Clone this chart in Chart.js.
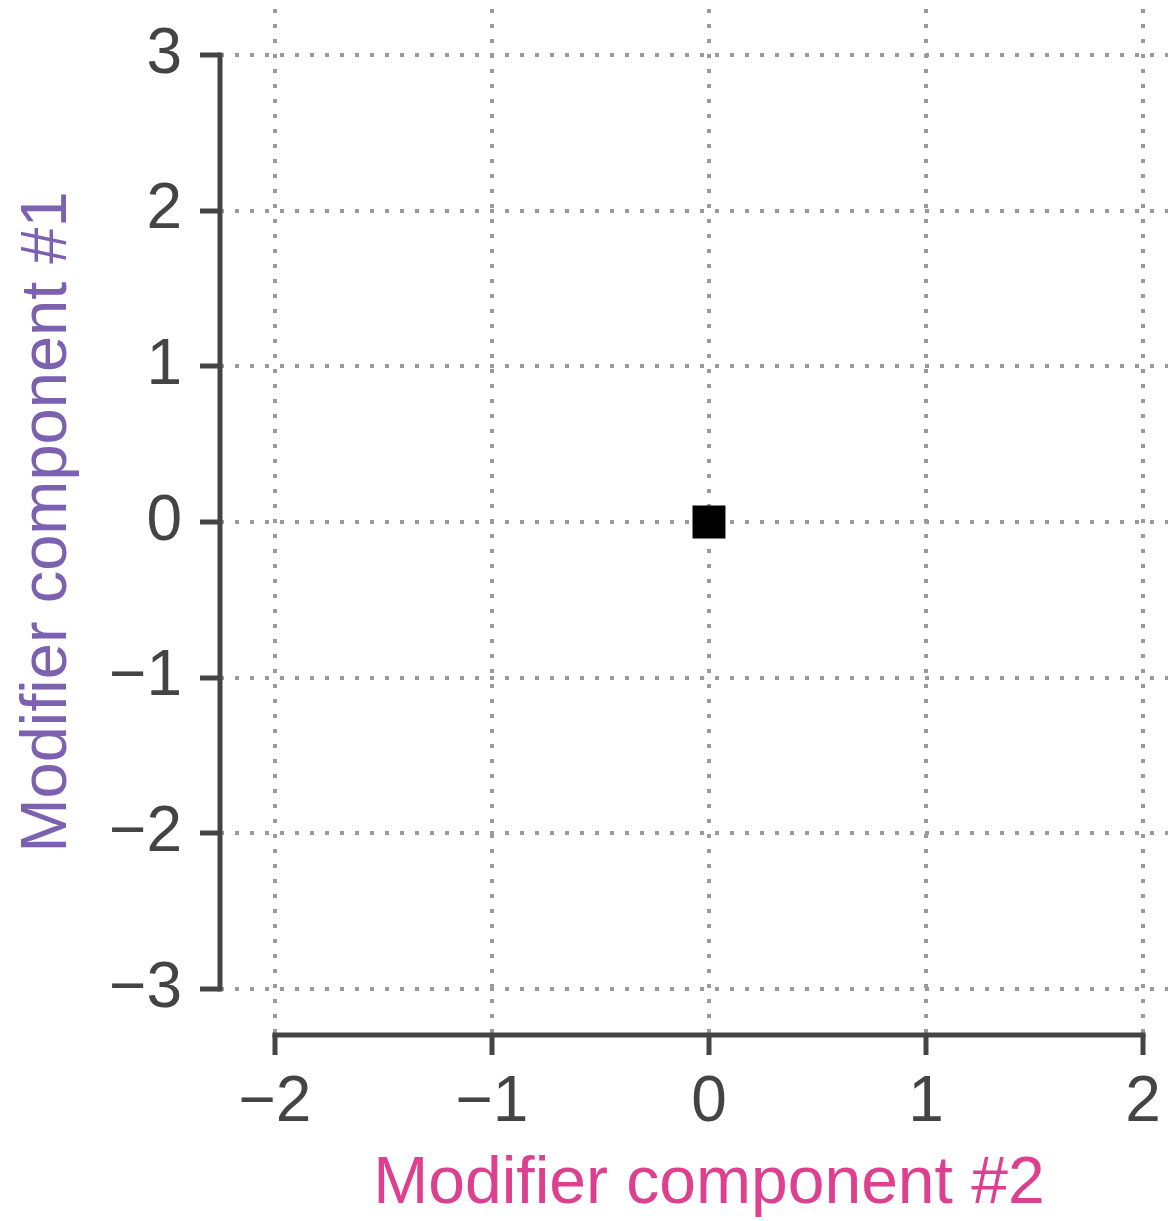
<!DOCTYPE html>
<html>
<head>
<meta charset="utf-8">
<script src="https://cdn.jsdelivr.net/npm/chart.js@4.4.0/dist/chart.umd.min.js"></script>
<style>
  html, body { margin: 0; padding: 0; background: #fff; }
  #wrap { width: 1168px; height: 1221px; }
</style>
</head>
<body>
<div id="wrap"><canvas id="scatter" width="1168" height="1221"></canvas></div>
<script>
const xTicks = [-2, -1, 0, 1, 2];
const yTicks = [-3, -2, -1, 0, 1, 2, 3];
const pointX = [0];
const pointY = [0];
const xTitle = "Modifier component #2";
const yTitle = "Modifier component #1";

const fontFamily = "'Liberation Sans', Arial, Helvetica, sans-serif";
const axisColor = "#444444";
const gridColor = "#9a9a9a";

// minus sign instead of hyphen, like the original
function fmt(v) {
    return v < 0 ? "\u2212" + Math.abs(v) : String(v);
}

// spines only run between first and last tick (offset axes)
const spines = {
    id: 'spines',
    afterDraw(chart) {
        const ctx = chart.ctx;
        const xs = chart.scales.x, ys = chart.scales.y;
        const area = chart.chartArea;
        const x0 = xs.getPixelForValue(xTicks[0]);
        const x1 = xs.getPixelForValue(xTicks[xTicks.length - 1]);
        ctx.save();
        ctx.strokeStyle = axisColor;
        ctx.lineWidth = 5;
        ctx.lineCap = 'square';
        ctx.beginPath();
        ctx.moveTo(area.left, ys.getPixelForValue(yTicks[0]));
        ctx.lineTo(area.left, ys.getPixelForValue(yTicks[yTicks.length - 1]));
        ctx.moveTo(x0, area.bottom);
        ctx.lineTo(x1, area.bottom);
        ctx.stroke();
        // x title centred under the spine, not under the whole chart area
        ctx.fillStyle = '#dd408f';
        ctx.font = '66px ' + fontFamily;
        ctx.textAlign = 'center';
        ctx.textBaseline = 'alphabetic';
        ctx.fillText(xTitle, (x0 + x1) / 2, area.bottom + 168);
        ctx.restore();
    }
};

const gridOpts = {
    color: gridColor,
    lineWidth: 4,
    tickLength: 20,
    tickWidth: 5,
    tickColor: axisColor,
    tickBorderDash: []
};

new Chart(document.getElementById('scatter'), {
    type: 'scatter',
    data: {
        datasets: [{
            data: pointX.map((x, i) => ({ x: x, y: pointY[i] })),
            pointStyle: 'rect',
            pointRadius: 23.3,
            pointHoverRadius: 23.3,
            backgroundColor: '#000000',
            borderColor: '#000000',
            borderWidth: 0
        }]
    },
    plugins: [spines],
    options: {
        responsive: false,
        animation: false,
        events: [],
        layout: { autoPadding: false, padding: { top: 9, left: 0, right: 0, bottom: 0 } },
        plugins: {
            legend: { display: false },
            tooltip: { enabled: false }
        },
        scales: {
            x: {
                type: 'linear',
                min: -2.253,
                max: 2.115,
                afterBuildTicks: s => { s.ticks = xTicks.map(v => ({ value: v })); },
                afterFit: s => { s.height = 186; s.paddingLeft = 0; s.paddingRight = 0; },
                grid: gridOpts,
                border: { display: false, dash: [4, 11] },
                ticks: {
                    color: axisColor,
                    font: { family: fontFamily, size: 64 },
                    padding: 10,
                    maxRotation: 0,
                    autoSkip: false,
                    callback: fmt
                }
            },
            y: {
                type: 'linear',
                min: -3.295,
                max: 3.295,
                afterBuildTicks: s => { s.ticks = yTicks.map(v => ({ value: v })); },
                afterFit: s => { s.width = 220; s.paddingTop = 0; s.paddingBottom = 0; },
                grid: gridOpts,
                border: { display: false, dash: [4, 11] },
                ticks: {
                    color: axisColor,
                    font: { family: fontFamily, size: 64 },
                    padding: 18,
                    autoSkip: false,
                    callback: fmt
                },
                title: {
                    display: true,
                    text: yTitle,
                    color: '#7b61b0',
                    font: { family: fontFamily, size: 65 },
                    padding: { top: 9, bottom: 0 }
                }
            }
        }
    }
});
</script>
</body>
</html>
